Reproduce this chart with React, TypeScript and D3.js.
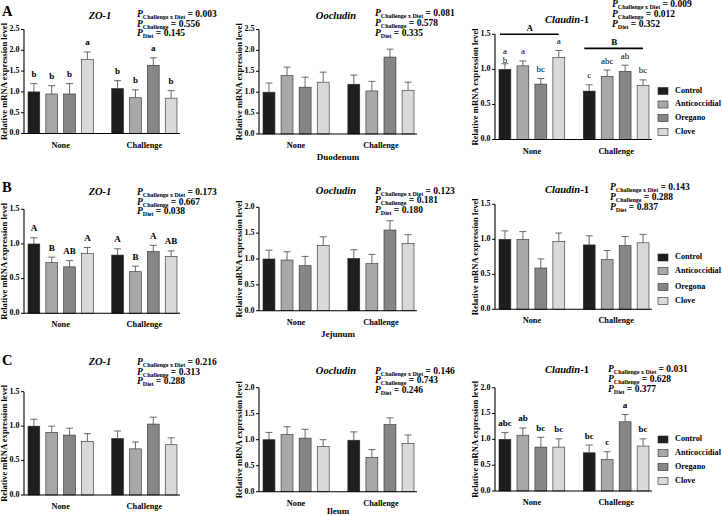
import React from "react";
import * as d3 from "d3";

const groups = ["None", "Challenge"];
const dietNames = ["Control", "Anticoccidial", "Oregano", "Clove"];
const dietNamesJej = ["Control", "Anticoccidial", "Oregona", "Clove"];
const barColors = ["#1e1e1e", "#a8a8a8", "#868686", "#d9d9d9"];

// order: None (Control, Anticoccidial, Oregano, Clove), Challenge (same)
const duoZoMean = [1.0, 0.95, 0.95, 1.78, 1.08, 0.86, 1.64, 0.85];
const duoZoErr = [0.2, 0.2, 0.25, 0.18, 0.19, 0.19, 0.18, 0.18];
const duoZoLetters = ["b", "b", "b", "a", "b", "b", "a", "b"];
const duoZoP = ["0.003", "0.556", "0.145"];

const duoOcMean = [1.0, 1.4, 1.12, 1.24, 1.19, 1.03, 1.84, 1.04];
const duoOcErr = [0.22, 0.2, 0.24, 0.24, 0.22, 0.23, 0.19, 0.2];
const duoOcP = ["0.081", "0.578", "0.335"];

const duoClMean = [1.0, 1.05, 0.79, 1.17, 0.69, 0.9, 0.97, 0.77];
const duoClErr = [0.08, 0.07, 0.08, 0.1, 0.09, 0.09, 0.09, 0.08];
const duoClLetters = ["a\nb", "a", "bc", "a", "c", "abc", "ab", "bc"];
const duoClGroupLetters = ["A", "B"];
const duoClGroupLevels = [1.5, 1.3];
const duoClP = ["0.009", "0.012", "0.352"];

const jejZoMean = [1.0, 0.73, 0.67, 0.86, 0.84, 0.6, 0.89, 0.82];
const jejZoErr = [0.09, 0.08, 0.09, 0.09, 0.09, 0.08, 0.09, 0.08];
const jejZoLetters = ["A", "B", "AB", "A", "A", "B", "A", "AB"];
const jejZoP = ["0.173", "0.667", "0.038"];

const jejOcMean = [1.0, 0.98, 0.87, 1.26, 1.01, 0.91, 1.56, 1.3];
const jejOcErr = [0.17, 0.16, 0.18, 0.17, 0.17, 0.18, 0.18, 0.17];
const jejOcP = ["0.123", "0.181", "0.180"];

const jejClMean = [1.0, 1.0, 0.59, 0.97, 0.92, 0.71, 0.91, 0.95];
const jejClErr = [0.12, 0.11, 0.13, 0.12, 0.13, 0.13, 0.13, 0.12];
const jejClP = ["0.143", "0.288", "0.837"];

const ileZoMean = [1.0, 0.91, 0.87, 0.78, 0.82, 0.67, 1.03, 0.73];
const ileZoErr = [0.1, 0.09, 0.1, 0.11, 0.11, 0.1, 0.1, 0.1];
const ileZoP = ["0.216", "0.313", "0.288"];

const ileOcMean = [1.0, 1.1, 1.03, 0.87, 0.99, 0.66, 1.29, 0.93];
const ileOcErr = [0.14, 0.15, 0.17, 0.13, 0.16, 0.15, 0.13, 0.16];
const ileOcP = ["0.146", "0.743", "0.246"];

const ileClMean = [1.0, 1.08, 0.85, 0.85, 0.74, 0.61, 1.34, 0.87];
const ileClErr = [0.13, 0.14, 0.19, 0.16, 0.15, 0.15, 0.14, 0.14];
const ileClLetters = ["abc", "ab", "bc", "bc", "bc", "c", "a", "bc"];
const ileClP = ["0.031", "0.628", "0.377"];

const tissues = ["Duodenum", "Jejunum", "Ileum"];
const panelLetters = ["A", "B", "C"];

const FONT = "'Liberation Serif', 'DejaVu Serif', serif";
const INK = "#000000";

type Cfg = {
  x0: number; x1: number; y0: number; yTop: number; yMax: number;
  gene: "zo" | "oc" | "cl";
  titleX: number; titleY: number;
  pX: number; pY: number[]; pVals: string[];
  means: number[]; errs: number[];
  letters?: string[]; letterWeight?: string | number;
  groupLetters?: string[]; groupLevels?: number[];
  legend?: { labels: string[]; ys: number[] };
  tissue?: string; tissueDy?: number;
};

function Title({ gene, x, y }: { gene: string; x: number; y: number }) {
  if (gene === "zo")
    return (
      <text x={x} y={y} textAnchor="middle" fontSize={10.5} fontWeight="bold" fontStyle="italic" fill={INK}>ZO-1</text>
    );
  if (gene === "oc")
    return (
      <text x={x} y={y} textAnchor="middle" fontSize={10.5} fontWeight="bold" fontStyle="italic" fill={INK}>Oocludin</text>
    );
  return (
    <text x={x} y={y} textAnchor="middle" fontSize={10.5} fontWeight="bold" fill={INK}>
      <tspan fontStyle="italic">Claudin</tspan>-1
    </text>
  );
}

const pSubs = ["Challenge x Diet", "Challenge", "Diet"];

function Panel({ c }: { c: Cfg }) {
  const y = d3.scaleLinear().domain([0, c.yMax]).range([c.y0, c.yTop]);
  const gx = d3.scaleBand<string>().domain(groups).range([c.x0 + 4, c.x1 - 3]).paddingInner(0.22);
  const ix = d3.scaleBand<string>().domain(dietNames).range([0, gx.bandwidth()]).paddingInner(0.34);
  const ticks = d3.range(0, c.yMax + 0.001, 0.5);
  const bars = c.means.map((m, i) => {
    const g = groups[Math.floor(i / 4)];
    const d = dietNames[i % 4];
    const bx = (gx(g) as number) + (ix(d) as number);
    return { m, e: c.errs[i], bx, bw: ix.bandwidth(), color: barColors[i % 4], letter: c.letters ? c.letters[i] : undefined };
  });
  const midY = (c.y0 + c.yTop) / 2;
  return (
    <g fontFamily={FONT}>
      <text transform={`translate(${c.x0 - 19},${midY}) rotate(-90)`} textAnchor="middle" dominantBaseline="middle" fontSize={8.6} fontWeight="bold" fill={INK}>
        Relative mRNA expression level
      </text>
      {bars.map((b, i) => (
        <g key={i}>
          <line x1={b.bx + b.bw / 2} x2={b.bx + b.bw / 2} y1={y(b.m)} y2={y(b.m + b.e)} stroke="#444" strokeWidth={0.8} />
          <line x1={b.bx + b.bw / 2 - 3.5} x2={b.bx + b.bw / 2 + 3.5} y1={y(b.m + b.e)} y2={y(b.m + b.e)} stroke="#444" strokeWidth={0.8} />
          <rect x={b.bx} y={y(b.m)} width={b.bw} height={c.y0 - y(b.m)} fill={b.color} stroke="#2a2a2a" strokeWidth={0.6} />
          {b.letter &&
            b.letter.split("\n").map((ln, k, arr) => (
              <text key={k} x={b.bx + b.bw / 2} y={arr.length > 1 ? y(b.m + b.e) - 1 - (arr.length - 1 - k) * 9 : y(b.m + b.e) - 6.5}
                textAnchor="middle" fontSize={9} fontWeight={c.letterWeight ?? "bold"} fill={INK}>{ln}</text>
            ))}
        </g>
      ))}
      <line x1={c.x0} x2={c.x0} y1={c.y0} y2={y(c.yMax)} stroke={INK} strokeWidth={1.1} />
      <line x1={c.x0} x2={c.x1} y1={c.y0} y2={c.y0} stroke={INK} strokeWidth={1.1} />
      {ticks.map((t) => (
        <g key={t}>
          <line x1={c.x0 - 3} x2={c.x0} y1={y(t)} y2={y(t)} stroke={INK} strokeWidth={1} />
          <text x={c.x0 - 4.5} y={y(t)} textAnchor="end" dominantBaseline="middle" fontSize={8} fontWeight="bold" fill={INK}>{d3.format(".1f")(t)}</text>
        </g>
      ))}
      {groups.map((g) => (
        <text key={g} x={(gx(g) as number) + gx.bandwidth() / 2} y={c.y0 + 14} textAnchor="middle" fontSize={8.3} fontWeight="bold" fill={INK}>{g}</text>
      ))}
      {c.tissue && (
        <text x={(c.x0 + c.x1) / 2} y={c.y0 + (c.tissueDy ?? 26)} textAnchor="middle" fontSize={9} fontWeight="bold" fill={INK}>{c.tissue}</text>
      )}
      {c.groupLetters && c.groupLevels &&
        groups.map((g, i) => (
          <g key={g}>
            <line x1={(gx(g) as number) + 1} x2={(gx(g) as number) + gx.bandwidth() - 6} y1={y(c.groupLevels![i])} y2={y(c.groupLevels![i])} stroke={INK} strokeWidth={1.6} />
            <text x={(gx(g) as number) + gx.bandwidth() / 2 - 2} y={y(c.groupLevels![i]) - 3} textAnchor="middle" fontSize={9} fontWeight="bold" fill={INK}>{c.groupLetters![i]}</text>
          </g>
        ))}
      <Title gene={c.gene} x={c.titleX} y={c.titleY} />
      {c.pVals.map((v, i) => (
        <text key={i} x={c.pX} y={c.pY[i]} fontSize={9.5} fontWeight="bold" fill={INK}>
          <tspan fontStyle="italic">P</tspan>
          <tspan fontSize={6} dy={2}>{pSubs[i]}</tspan>
          <tspan dy={-2}>{" = " + v}</tspan>
        </text>
      ))}
      {c.legend &&
        c.legend.labels.map((l, i) => (
          <g key={l}>
            <rect x={658} y={c.legend!.ys[i] - 3.5} width={10} height={7} fill={barColors[i]} stroke="#2a2a2a" strokeWidth={0.6} />
            <text x={675} y={c.legend!.ys[i]} dominantBaseline="middle" fontSize={8.2} fontWeight="bold" fill={INK}>{l}</text>
          </g>
        ))}
    </g>
  );
}

const col = [
  { x0: 24, x1: 180, titleX: 100, pX: 137 },
  { x0: 259, x1: 417, titleX: 336, pX: 375 },
  { x0: 495, x1: 652, titleX: 567, pX: 610 },
];

const cfgs: Cfg[] = [
  { ...col[0], y0: 133.5, yTop: 29.5, yMax: 2.5, gene: "zo", titleY: 19, pY: [16.5, 26.5, 36], pVals: duoZoP, means: duoZoMean, errs: duoZoErr, letters: duoZoLetters },
  { ...col[1], y0: 134, yTop: 29.5, yMax: 2.5, gene: "oc", titleY: 19, pY: [16, 26, 36], pVals: duoOcP, means: duoOcMean, errs: duoOcErr, tissue: tissues[0] },
  { ...col[2], pX: 612, y0: 139.5, yTop: 34.3, yMax: 1.5, gene: "cl", titleY: 23, pY: [6.5, 16.5, 27], pVals: duoClP, means: duoClMean, errs: duoClErr, letters: duoClLetters, letterWeight: "normal", groupLetters: duoClGroupLetters, groupLevels: duoClGroupLevels, legend: { labels: dietNames, ys: [91, 104.5, 118, 132] } },
  { ...col[0], y0: 313.3, yTop: 209.3, yMax: 1.5, gene: "zo", titleY: 195, pY: [195, 204.5, 214], pVals: jejZoP, means: jejZoMean, errs: jejZoErr, letters: jejZoLetters },
  { ...col[1], y0: 310.7, yTop: 207.3, yMax: 2.0, gene: "oc", titleY: 193.5, pY: [193.5, 203, 212.5], pVals: jejOcP, means: jejOcMean, errs: jejOcErr, tissue: tissues[1] },
  { ...col[2], y0: 309.3, yTop: 204.3, yMax: 1.5, gene: "cl", titleY: 192.5, pY: [190, 200, 210], pVals: jejClP, means: jejClMean, errs: jejClErr, legend: { labels: dietNamesJej, ys: [257.5, 271, 287, 301] } },
  { ...col[0], y0: 495, yTop: 391.7, yMax: 1.5, gene: "zo", titleY: 365, pY: [365, 374.5, 384], pVals: ileZoP, means: ileZoMean, errs: ileZoErr },
  { ...col[1], y0: 491.7, yTop: 387.7, yMax: 2.0, gene: "oc", titleY: 373.5, pY: [373.5, 383, 392.5], pVals: ileOcP, means: ileOcMean, errs: ileOcErr, tissue: tissues[2], tissueDy: 22.5 },
  { ...col[2], pX: 608, y0: 491, yTop: 387.7, yMax: 2.0, gene: "cl", titleY: 373, pY: [372, 381.5, 391.5], pVals: ileClP, means: ileClMean, errs: ileClErr, letters: ileClLetters, legend: { labels: dietNames, ys: [439.5, 453, 467, 481] } },
];

const letterPos = [15.5, 191.5, 365];

export default function App() {
  return (
    <svg width={722} height={516} style={{ position: "absolute", left: 0, top: 0, background: "#fff" }} fontFamily={FONT}>
      <rect width={722} height={516} fill="#fff" />
      {cfgs.map((c, i) => (
        <Panel key={i} c={c} />
      ))}
      {panelLetters.map((l, i) => (
        <text key={l} x={2} y={letterPos[i]} fontSize={14.5} fontWeight="bold" fill={INK}>{l}</text>
      ))}
    </svg>
  );
}
